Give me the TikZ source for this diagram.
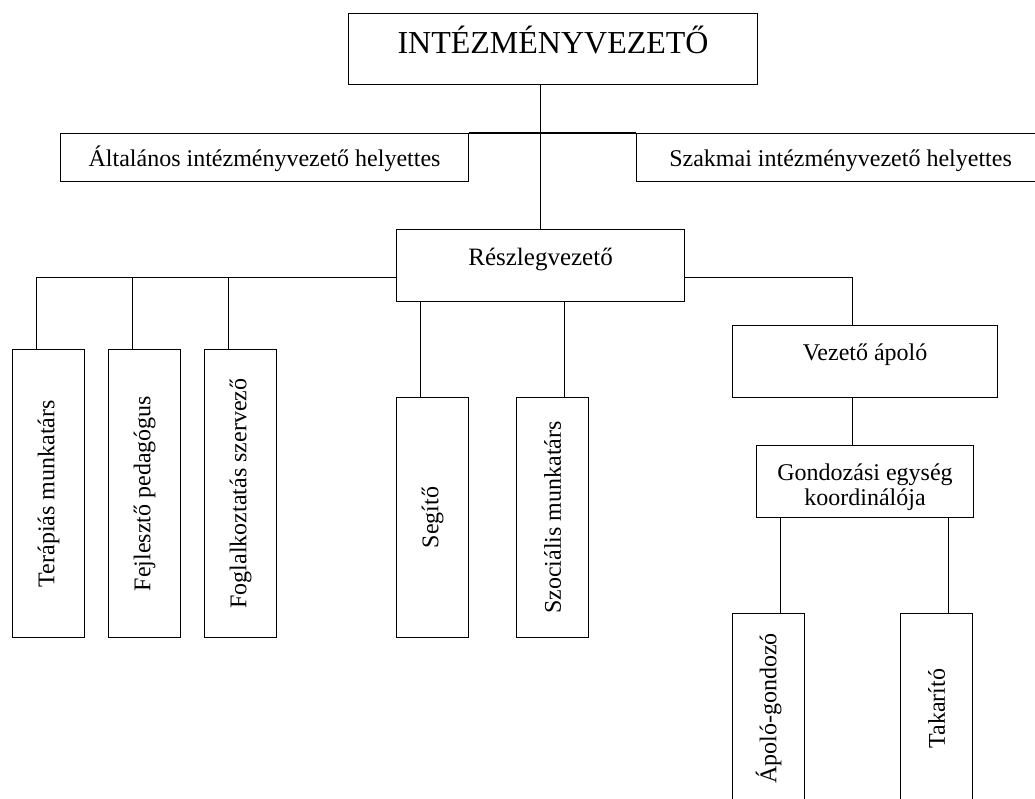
\documentclass[tikz,border=0pt]{standalone}
\usepackage{fontspec}
\setmainfont{Liberation Serif}
\usepackage{graphicx}
\newcommand\fsz[1]{\fontsize{#1}{#1}\selectfont}
\tikzset{
  box/.style={draw, line width=1.1pt, rectangle, inner sep=0pt, anchor=north west, font=\fsz{24}},
  vbox/.style={draw, line width=1.1pt, rectangle, inner sep=0pt, anchor=north west, minimum width=72pt, font=\fsz{24}},
  conn/.style={draw, line width=1.1pt}
}
\begin{document}
\begin{tikzpicture}[x=1pt,y=-1pt]
\useasboundingbox (0,0) rectangle (1035,798);
\clip (0,0) rectangle (1035,798);
\fill[white] (0,0) rectangle (1035,798);
% boxes
\node[box, minimum width=409pt, text height=40pt, text depth=31pt, font=\fsz{32}] (top) at (348,13) {INTÉZMÉNYVEZETŐ};
\node[box, minimum width=408pt, text height=33pt, text depth=15pt] (alt) at (60,133) {Általános intézményvezető helyettes};
\node[box, minimum width=408pt, text height=33pt, text depth=15pt] (szak) at (636,133) {Szakmai intézményvezető helyettes};
\node[box, minimum width=288pt, text height=36pt, text depth=36pt, font=\fsz{25}] (resz) at (396,229) {Részlegvezető};
\node[box, minimum width=265pt, text height=35pt, text depth=37pt] (vezap) at (732,325) {Vezető ápoló};
\node[box, minimum width=217pt, text height=35pt, text depth=37pt, font={\fontsize{24}{25}\selectfont}] (gond) at (756,445) {\begin{tabular}[t]{@{}c@{}}Gondozási egység\\koordinálója\end{tabular}};
\node[vbox, minimum height=288pt] (terap) at (12,349) {\rotatebox{90}{Terápiás munkatárs}};
\node[vbox, minimum height=288pt] (fejl) at (108,349) {\rotatebox{90}{Fejlesztő pedagógus}};
\node[vbox, minimum height=288pt] (fogl) at (204,349) {\rotatebox{90}{Foglalkoztatás szervező}};
\node[vbox, minimum height=240pt] (segito) at (396,397) {\rotatebox{90}{Segítő}};
\node[vbox, minimum height=240pt] (szoc) at (516,397) {\rotatebox{90}{Szociális munkatárs}};
\node[vbox, minimum height=190pt] (apolo) at (732,613) {\rotatebox{90}{Ápoló-gondozó}};
\node[vbox, minimum height=190pt] (takar) at (900,613) {\rotatebox{90}{Takarító}};
% connectors
\draw[conn] (top.south -| resz.north) -- (resz.north);
\draw[conn] (alt.north east) -- (szak.north west);
\coordinate (busL) at ([yshift=-12pt]resz.west);
\coordinate (busR) at ([yshift=-12pt]resz.east);
\draw[conn] (busL) -| ([xshift=-12pt]terap.north);
\draw[conn] ([xshift=-12pt]fejl.north) -- ([xshift=-12pt]fejl.north |- busL);
\draw[conn] ([xshift=-12pt]fogl.north) -- ([xshift=-12pt]fogl.north |- busL);
\draw[conn] ([xshift=-12pt]segito.north) -- ([xshift=-12pt]segito.north |- resz.south);
\draw[conn] ([xshift=12pt]szoc.north) -- ([xshift=12pt]szoc.north |- resz.south);
\draw[conn] (busR) -| ([xshift=-12.5pt]vezap.north);
\draw[conn] ([xshift=-12.5pt]vezap.south) -- ([xshift=-12.5pt]vezap.south |- gond.north);
\draw[conn] ([xshift=12pt]apolo.north) -- ([xshift=12pt]apolo.north |- gond.south);
\draw[conn] ([xshift=12pt]takar.north) -- ([xshift=12pt]takar.north |- gond.south);
\end{tikzpicture}
\end{document}
